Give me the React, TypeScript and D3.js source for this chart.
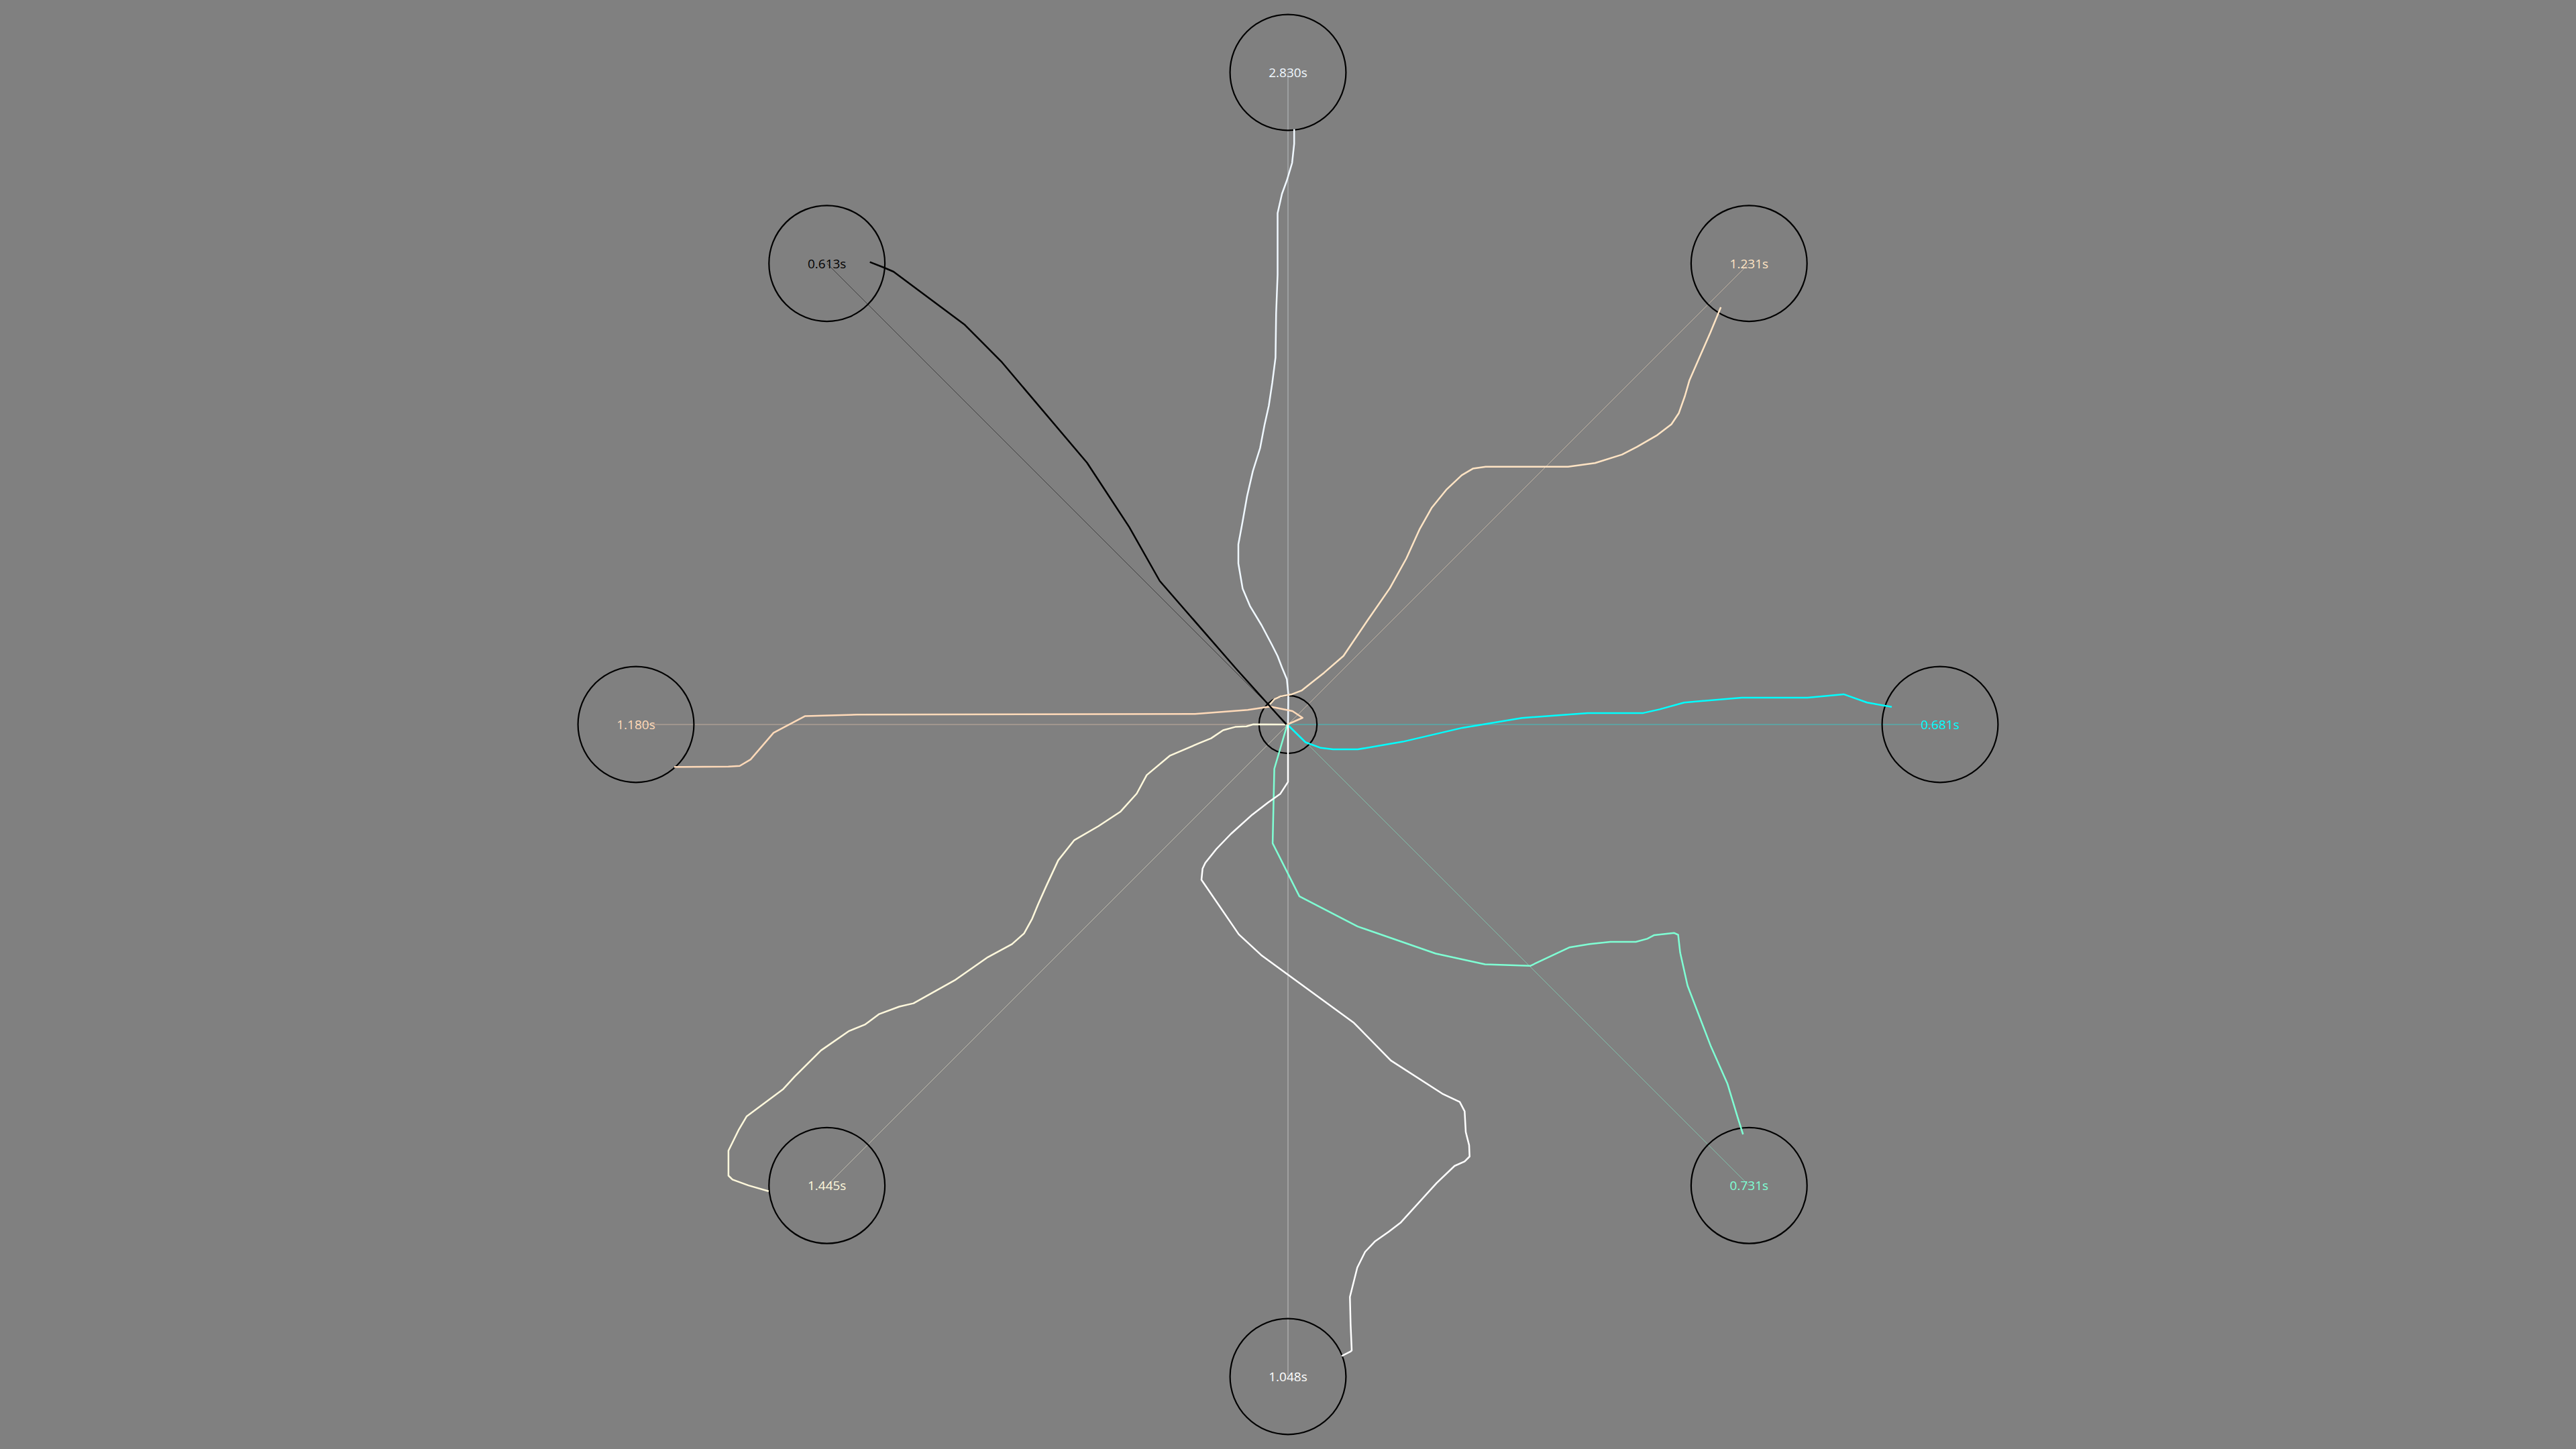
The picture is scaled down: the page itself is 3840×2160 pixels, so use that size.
import React from "react";
import * as d3 from "d3";

// ---- data (offsets from the start point, in screen px of a 2160-high frame) ----
const trialNames = ["up", "upRight", "right", "downRight", "down", "downLeft", "left", "upLeft"];
const targetAngles = [-90, -45, 0, 45, 90, 135, 180, -135];
const movementTimes = [2.83, 1.231, 0.681, 0.731, 1.048, 1.445, 1.18, 0.613];
const trialColors = ["aliceblue", "bisque", "cyan", "aquamarine", "white", "cornsilk", "peachpuff", "black"];

const pathUp: [number, number][] = [
  [0, 0], [0.5, -45], [-1.7, -67.6], [-9, -85], [-15.5, -102], [-24.2, -119.3], [-39.4, -148],
  [-56.7, -176.7], [-67.6, -202.5], [-74, -240], [-74, -268.5], [-67.6, -303], [-61, -340.3],
  [-52.4, -377.6], [-41.6, -412], [-35, -446.5], [-28.6, -475.2], [-23.4, -509.6], [-18.6, -547],
  [-17.7, -613], [-15.5, -670.4], [-15.5, -762.2], [-9, -791], [-1.7, -811], [6.1, -837],
  [9.2, -865.6], [9.2, -887.4],
];
const pathUpRight: [number, number][] = [
  [-27, -30], [-20, -38], [-11, -42], [4.6, -44.7], [20.2, -50.6], [53.7, -77.1], [82.7, -102.3],
  [118.4, -155], [151.9, -203.4], [176.4, -247.5], [196.5, -291.7], [214.4, -323.3], [236.7, -350.7],
  [259, -371.7], [275.5, -381.4], [294.7, -384.3], [417.5, -384.3], [457.7, -389.8], [497.9, -402.4],
  [520.2, -413.8], [549.2, -430.6], [571.5, -447.5], [582.7, -464.3], [591.6, -489.5], [598.3, -512.7],
  [613.9, -548.5], [629.6, -584.2], [645.2, -622.1],
];
const pathRight: [number, number][] = [
  [-1, 0], [26.1, 26.5], [48.8, 34.8], [67.2, 37.1], [103.9, 37.1], [171.3, 25.6], [260, 4.9],
  [348.8, -9.8], [446.8, -17.1], [529.5, -17.1], [554, -22.6], [590.7, -32.7], [676.5, -40.1],
  [774.4, -40.1], [828.3, -45.1], [863.2, -32.7], [900, -26.3],
];
const pathDownRight: [number, number][] = [
  [-1, 0], [-20.4, 66], [-22.9, 177.1], [17, 256.1], [103.9, 301.1], [220.3, 341.5], [293.7, 357.5],
  [361.1, 359.8], [419.3, 332.3], [449.9, 327.2], [480.5, 324], [518.5, 324], [535.6, 319.4],
  [546, 313.9], [575.4, 310.7], [581.6, 313.5], [584.6, 340.1], [595.6, 389.2], [630.5, 480.1],
  [655, 535.2], [670.3, 585.7], [678.3, 611],
];
const pathDown: [number, number][] = [
  [0, 0], [0, 85.6], [-11.7, 103.6], [-30, 116.5], [-53.3, 134.4], [-85, 163], [-106.7, 185.5],
  [-123.3, 206.3], [-127.3, 214.7], [-129, 231.5], [-73.3, 312.9], [-40, 343.7], [-1.7, 371.8],
  [98.3, 444.8], [153.3, 500.9], [230, 550.3], [256, 562.6], [263.3, 576.6], [265, 607.5],
  [270, 627.1], [270.7, 644], [263.3, 651.3], [248.3, 658], [221.7, 683.3], [168.3, 742.2],
  [150, 756.2], [130, 770.2], [115, 786], [103.3, 809.5], [92.3, 853.3], [93.3, 893.7], [95, 933],
  [93.3, 934.7], [80, 941.4],
];
const pathDownLeft: [number, number][] = [
  [-2, 0], [-51.7, -0.3], [-61.9, 2.7], [-78.7, 3.6], [-96.7, 8.5], [-114.7, 20.6], [-132.6, 27.9],
  [-175.8, 46.3], [-210.6, 75.4], [-225.5, 103], [-249.5, 129.7], [-282.5, 151.5], [-318.5, 172.3],
  [-342.5, 202.4], [-360.5, 241.1], [-372.4, 267.8], [-381.4, 289.6], [-393.4, 311.4], [-411.4, 327.4],
  [-447.4, 346.8], [-495.3, 380.3], [-558.3, 415.6], [-579.3, 420.5], [-609.3, 431.6], [-630.2, 447.1],
  [-654.2, 456.8], [-696.2, 485.9], [-735.2, 524.7], [-753.1, 544.1], [-807.1, 584.3], [-819.1, 604.7],
  [-834.1, 635.2], [-834.1, 672.5], [-828.1, 678.4], [-804.1, 687.1], [-774.1, 695.8],
];
const pathLeft: [number, number][] = [
  [-1, 0], [21.7, -10], [6.7, -20], [-26.7, -26.7], [-60, -21.7], [-138.6, -15.8], [-642.2, -14.8],
  [-720.2, -12.4], [-766.9, 12.4], [-801.1, 52.1], [-817.3, 61.8], [-834.1, 62.8], [-915, 63.2],
];
const pathUpLeft: [number, number][] = [
  [-2.5, 0], [-76.3, -82], [-191.2, -214], [-236.7, -294.4], [-299.6, -390.2], [-427.5, -541.2],
  [-481.7, -595.7], [-588, -675], [-602, -681], [-623.3, -689.3],
];

const trajectories = [pathUp, pathUpRight, pathRight, pathDownRight, pathDown, pathDownLeft, pathLeft, pathUpLeft];

// ---- layout ----
const W = 3840;
const H = 2160;
const RING = 0.45 * H;
const TARGET_R = 0.04 * H;
const HOME_R = 0.02 * H;

export default function App() {
  const x = d3.scaleLinear().domain([-W / 2, W / 2]).range([0, W]);
  const y = d3.scaleLinear().domain([-H / 2, H / 2]).range([0, H]);
  const color = d3.scaleOrdinal<string, string>().domain(trialNames).range(trialColors);
  const line = d3
    .line<[number, number]>()
    .x((d) => x(d[0]))
    .y((d) => y(d[1]))
    .curve(d3.curveLinear);

  const targets = trialNames.map((name, i) => {
    const a = (targetAngles[i] * Math.PI) / 180;
    return {
      name,
      cx: x(RING * Math.cos(a)),
      cy: y(RING * Math.sin(a)),
      time: movementTimes[i],
      path: trajectories[i],
      col: color(name),
    };
  });

  return (
    <div style={{ position: "fixed", left: 0, top: 0, width: W, height: H, background: "#808080" }}>
      <svg width={W} height={H} style={{ display: "block" }}>
        <rect x={0} y={0} width={W} height={H} fill="#808080" />
        {targets.map((t) => (
          <line
            key={"g" + t.name}
            x1={x(0)}
            y1={y(0)}
            x2={t.cx}
            y2={t.cy}
            stroke={t.col}
            strokeOpacity={0.5}
            strokeWidth={1}
          />
        ))}
        <circle cx={x(0)} cy={y(0)} r={HOME_R} fill="none" stroke="black" strokeWidth={2.2} />
        {targets.map((t) => (
          <circle key={"c" + t.name} cx={t.cx} cy={t.cy} r={TARGET_R} fill="none" stroke="black" strokeWidth={2.2} />
        ))}
        {targets.map((t) => (
          <text
            key={"t" + t.name}
            x={t.cx}
            y={t.cy}
            fill={t.col}
            fontFamily="'Open Sans', 'Noto Sans', sans-serif"
            fontSize={19}
            textAnchor="middle"
            dominantBaseline="central"
          >
            {d3.format(".3f")(t.time) + "s"}
          </text>
        ))}
        {targets.map((t) => (
          <path
            key={"p" + t.name}
            d={line(t.path) || ""}
            fill="none"
            stroke={t.col}
            strokeWidth={2.5}
            strokeLinejoin="round"
            strokeLinecap="butt"
          />
        ))}
      </svg>
    </div>
  );
}
